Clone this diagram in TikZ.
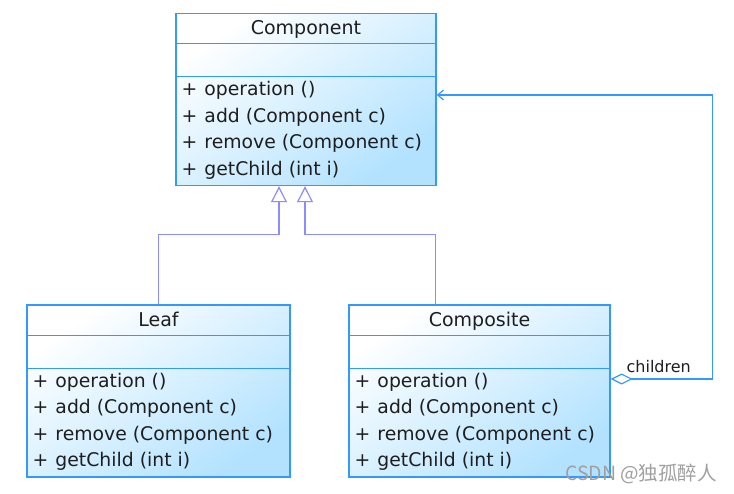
\documentclass[tikz,border=0pt]{standalone}
\usepackage{fontspec}
\setmainfont{DejaVu Sans}
\newfontfamily\cjkfont{Noto Sans CJK SC}
\usetikzlibrary{arrows.meta}
\definecolor{umlborder}{RGB}{51,153,255}
\definecolor{umlfill}{RGB}{178,226,255}
\definecolor{genline}{RGB}{140,140,255}
\definecolor{umltext}{RGB}{30,30,30}
\tikzset{
  classbox/.style={draw=umlborder, line width=1.4pt, top color=white, bottom color=umlfill,
    shading angle=35, minimum height=172pt, inner sep=0pt},
  classline/.style={draw=umlborder, line width=1.2pt},
  classname/.style={anchor=base, inner sep=0pt, text=umltext, font=\fontsize{19}{21}\selectfont},
  opline/.style={anchor=base west, inner sep=0pt, text=umltext, font=\fontsize{18.8}{21}\selectfont},
  genarrow/.style={draw=genline, line width=1.2pt, -{Triangle[open, length=16pt, width=16pt]}},
  aggarrow/.style={draw=umlborder, line width=1.2pt,
    {Diamond[open, length=22pt, width=11pt]}-{Straight Barb[length=6pt, width=10pt]}}
}
\begin{document}
\begin{tikzpicture}[x=1pt,y=-1pt]
\fill[white] (0,0) rectangle (734,493);
\useasboundingbox (0,0) rectangle (734,493);
% class boxes
\node[classbox, minimum width=260pt] (comp) at (306,99.5) {};
\node[classbox, minimum width=263pt] (leaf) at (158.5,391) {};
\node[classbox, minimum width=261pt] (compo) at (479.5,391) {};
% compartments, names and operations
\foreach \c/\t in {comp/Component, leaf/Leaf, compo/Composite}{
  \draw[classline] ([yshift=-31pt]\c.north west) -- ([yshift=-31pt]\c.north east);
  \draw[classline] ([yshift=-64pt]\c.north west) -- ([yshift=-64pt]\c.north east);
  \node[classname] (\c-title) at ([yshift=-22pt]\c.north) {\t};
  \foreach \op [count=\i] in {operation (), add (Component c), remove (Component c), getChild (int i)}
    \node[opline] (\c-op\i) at ([xshift=6pt, yshift={-83pt-(\i-1)*26.4pt}]\c.north west)
      {\makebox[23pt][l]{+}\op};
}
% generalization
\draw[genarrow] (leaf.north) -- ++(0,-70) -| ([xshift=-27pt]comp.south);
\draw[genarrow] ([xshift=-44pt]compo.north) -- ++(0,-70) -| ([xshift=-1pt]comp.south);
% aggregation
\draw[aggarrow] ([yshift=12pt]compo.east) -- ++(102,0)
  node[midway, above, xshift=-3pt, inner sep=6pt, text=umltext, font=\fontsize{16}{17}\selectfont] (childlbl) {children}
  |- ([yshift=4.5pt]comp.east);
% watermark
\node[text=gray!75, font=\cjkfont\fontsize{19.5}{21}\selectfont] (mark) at (641,474) {CSDN @独孤醉人};
\end{tikzpicture}
\end{document}
